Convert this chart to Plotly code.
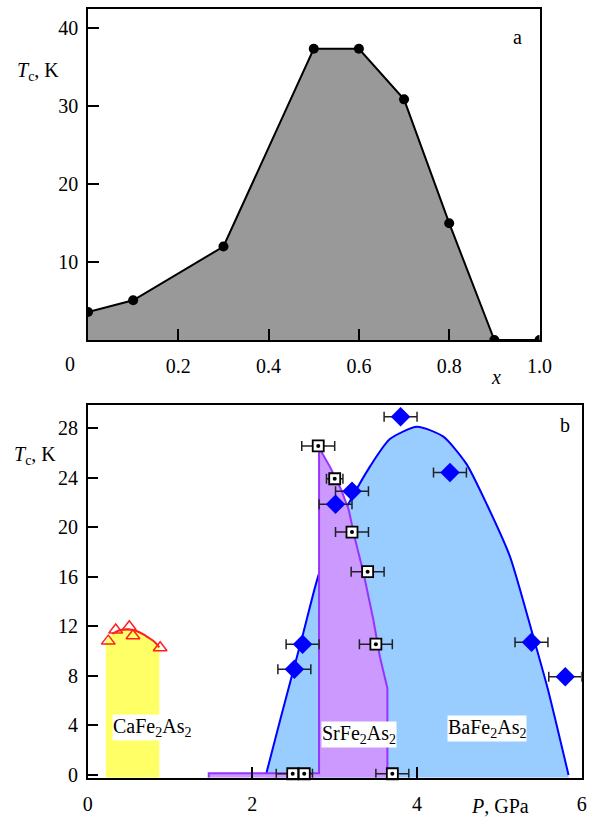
import plotly.graph_objects as go

# ---------------- data ----------------
# panel a
a_x = [0.0, 0.1, 0.3, 0.5, 0.6, 0.7, 0.8, 0.9, 1.0]
a_tc = [3.6, 5.1, 12.0, 37.4, 37.4, 30.9, 15.0, 0.0, 0.0]
a_xticks = [0.2, 0.4, 0.6, 0.8, 1.0]
a_xticktext = ["0.2", "0.4", "0.6", "0.8", "1.0"]
a_yticks = [10, 20, 30, 40]

# panel b: BaFe2As2
ba_p = [3.80, 4.40, 3.21, 3.01, 5.39, 5.80, 2.61, 2.51]
ba_tc = [28.9, 24.4, 22.9, 21.85, 10.7, 7.93, 10.55, 8.52]
ba_err = [0.2, 0.2, 0.2, 0.2, 0.2, 0.2, 0.2, 0.2]
ba_curve_p = [2.17, 2.34, 2.50, 2.62, 2.78, 2.95, 3.17, 3.43, 3.67, 4.00,
              4.32, 4.60, 4.85, 5.13, 5.41, 5.59, 5.84]
ba_curve_tc = [0.14, 4.5, 8.5, 11.5, 15.6, 19.0, 21.9, 24.9, 27.1, 28.1,
               27.3, 25.1, 21.8, 17.6, 11.2, 6.9, 0.0]

# panel b: SrFe2As2
sr_p = [2.80, 3.00, 3.21, 3.40, 3.50, 2.49, 2.63, 3.70]
sr_tc = [26.55, 23.9, 19.6, 16.4, 10.55, 0.1, 0.1, 0.1]
sr_err = [0.2, 0.1, 0.2, 0.2, 0.2, 0.2, 0.1, 0.2]
sr_region_p = [1.47, 1.47, 2.81, 2.81, 2.94, 3.08, 3.17, 3.25, 3.35, 3.47, 3.55, 3.64, 3.64]
sr_region_tc = [None, 0.14, 0.14, 26.4, 24.9, 23.0, 21.4, 18.95, 16.3, 12.5, 9.5, 7.0, None]

# panel b: CaFe2As2
ca_p = [0.25, 0.34, 0.505, 0.55, 0.88]
ca_tc = [10.8, 11.7, 11.96, 11.23, 10.27]
ca_curve_p = [0.22, 0.30, 0.40, 0.50, 0.60, 0.70, 0.80, 0.87]
ca_curve_tc = [10.9, 11.4, 11.7, 11.75, 11.6, 11.25, 10.8, 10.3]

b_xticks = [0, 2, 4, 6]
b_yticks = [0, 4, 8, 12, 16, 20, 24, 28]

A_XRANGE = [0, 1]
A_YRANGE = [0, 42.5]
B_XRANGE = [0, 6]
B_YRANGE = [-0.22, 29.85]

# ---------------- style ----------------
FONT = "Liberation Serif, Times New Roman, serif"
FS = 20
W, H = 595, 819


def px(x):
    return x / W


def py(y):
    return 1 - y / H


ybot = B_YRANGE[0]

fig = go.Figure()

# ---- panel a ----
fig.add_trace(go.Scatter(
    x=a_x, y=a_tc, mode="lines+markers", fill="tozeroy",
    fillcolor="#999999", line=dict(color="black", width=2),
    marker=dict(color="black", size=10), xaxis="x", yaxis="y",
    showlegend=False, hoverinfo="skip"))

# ---- panel b ----
# BaFe2As2 fill + curve
fig.add_trace(go.Scatter(
    x=[ba_curve_p[0]] + ba_curve_p + [ba_curve_p[-1]],
    y=[ybot] + ba_curve_tc + [ybot],
    mode="lines", fill="toself", fillcolor="#99ccff",
    line=dict(width=0, color="rgba(0,0,0,0)"),
    xaxis="x2", yaxis="y2", showlegend=False, hoverinfo="skip"))
fig.add_trace(go.Scatter(
    x=ba_curve_p, y=ba_curve_tc, mode="lines",
    line=dict(color="#0000ff", width=2, shape="spline", smoothing=0.6),
    xaxis="x2", yaxis="y2", showlegend=False, hoverinfo="skip"))

# SrFe2As2 region
sr_y = [ybot if v is None else v for v in sr_region_tc]
fig.add_trace(go.Scatter(
    x=sr_region_p, y=sr_y, mode="lines", fill="toself",
    fillcolor="#cc99ff", line=dict(color="#9933ff", width=2),
    xaxis="x2", yaxis="y2", showlegend=False, hoverinfo="skip"))

# CaFe2As2 region
fig.add_trace(go.Scatter(
    x=[ca_curve_p[0]] + ca_curve_p + [ca_curve_p[-1]],
    y=[ybot] + ca_curve_tc + [ybot],
    mode="lines", fill="toself", fillcolor="#ffff66",
    line=dict(width=0, color="rgba(0,0,0,0)"),
    xaxis="x2", yaxis="y2", showlegend=False, hoverinfo="skip"))
fig.add_trace(go.Scatter(
    x=ca_curve_p[1:], y=ca_curve_tc[1:], mode="lines",
    line=dict(color="#ff2020", width=2, shape="spline"),
    xaxis="x2", yaxis="y2", showlegend=False, hoverinfo="skip"))
fig.add_trace(go.Scatter(
    x=ca_p, y=ca_tc, mode="markers",
    marker=dict(symbol="triangle-up-open", size=12, color="#ff2020",
                line=dict(width=1.5, color="#ff2020")),
    xaxis="x2", yaxis="y2", showlegend=False, hoverinfo="skip"))

# SrFe2As2 points
fig.add_trace(go.Scatter(
    x=sr_p, y=sr_tc, mode="markers",
    error_x=dict(type="data", array=sr_err, color="#222222",
                 thickness=1.5, width=5),
    marker=dict(symbol="square", size=11, color="white",
                line=dict(color="black", width=1.8)),
    xaxis="x2", yaxis="y2", showlegend=False, hoverinfo="skip",
    cliponaxis=False))
fig.add_trace(go.Scatter(
    x=sr_p, y=sr_tc, mode="markers",
    marker=dict(symbol="circle", size=4, color="black"),
    xaxis="x2", yaxis="y2", showlegend=False, hoverinfo="skip",
    cliponaxis=False))

# BaFe2As2 points
fig.add_trace(go.Scatter(
    x=ba_p, y=ba_tc, mode="markers",
    error_x=dict(type="data", array=ba_err, color="#222222",
                 thickness=1.5, width=5),
    marker=dict(symbol="diamond", size=15, color="#0000ff",
                line=dict(width=0)),
    xaxis="x2", yaxis="y2", showlegend=False, hoverinfo="skip"))

axis_common = dict(
    showline=True, mirror=True, linecolor="black", linewidth=1.5,
    ticks="inside", ticklen=11, tickwidth=1.5, tickcolor="black",
    showgrid=False, zeroline=False, automargin=False,
    tickfont=dict(family=FONT, size=FS, color="black"))

fig.update_layout(
    width=W, height=H, autosize=False,
    margin=dict(l=0, r=0, t=0, b=0, pad=0, autoexpand=False),
    paper_bgcolor="white", plot_bgcolor="white",
    font=dict(family=FONT, size=FS, color="black"),
    xaxis=dict(axis_common, domain=[px(88), px(539.5)], range=A_XRANGE,
               tickvals=a_xticks, ticktext=a_xticktext, anchor="y",
               ticklabelstandoff=7),
    yaxis=dict(axis_common, domain=[py(340), py(9)], range=A_YRANGE,
               tickvals=a_yticks, anchor="x", ticklabelstandoff=4),
    xaxis2=dict(axis_common, domain=[px(87.7), px(581.7)], range=B_XRANGE,
                tickvals=b_xticks, anchor="y2", ticklabelstandoff=8),
    yaxis2=dict(axis_common, domain=[py(777.7), py(405)], range=B_YRANGE,
                tickvals=b_yticks, anchor="x2", ticklabelstandoff=4),
)

ann = []


def add_text(text, x, y, xanchor="center", yanchor="middle", bg=None, size=FS):
    d = dict(text=text, x=px(x), y=py(y), xref="paper", yref="paper",
             xanchor=xanchor, yanchor=yanchor, showarrow=False,
             font=dict(family=FONT, size=size, color="black"))
    if bg:
        d["bgcolor"] = bg
        d["borderpad"] = 0
    ann.append(d)


add_text("<i>T</i><sub>c</sub>, K", 15, 71, xanchor="left")
add_text("<i>T</i><sub>c</sub>, K", 12, 455, xanchor="left")
add_text("0", 70, 364)
add_text("<i>x</i>", 496, 377)
add_text("a", 517, 37)
add_text("b", 565, 425)
add_text("<i>P</i>, GPa", 500, 819, yanchor="bottom")

ann.append(dict(text="CaFe<sub>2</sub>As<sub>2</sub>", x=0.78, y=3.8,
                xref="x2", yref="y2", showarrow=False, bgcolor="white",
                borderpad=0, font=dict(family=FONT, size=FS, color="black")))
ann.append(dict(text="SrFe<sub>2</sub>As<sub>2</sub>", x=3.29, y=3.3,
                xref="x2", yref="y2", showarrow=False, bgcolor="white",
                borderpad=0, font=dict(family=FONT, size=FS, color="black")))
ann.append(dict(text="BaFe<sub>2</sub>As<sub>2</sub>", x=4.85, y=3.76,
                xref="x2", yref="y2", showarrow=False, bgcolor="white",
                borderpad=0, font=dict(family=FONT, size=FS, color="black")))

fig.update_layout(annotations=ann)

fig.write_html("out.html")
